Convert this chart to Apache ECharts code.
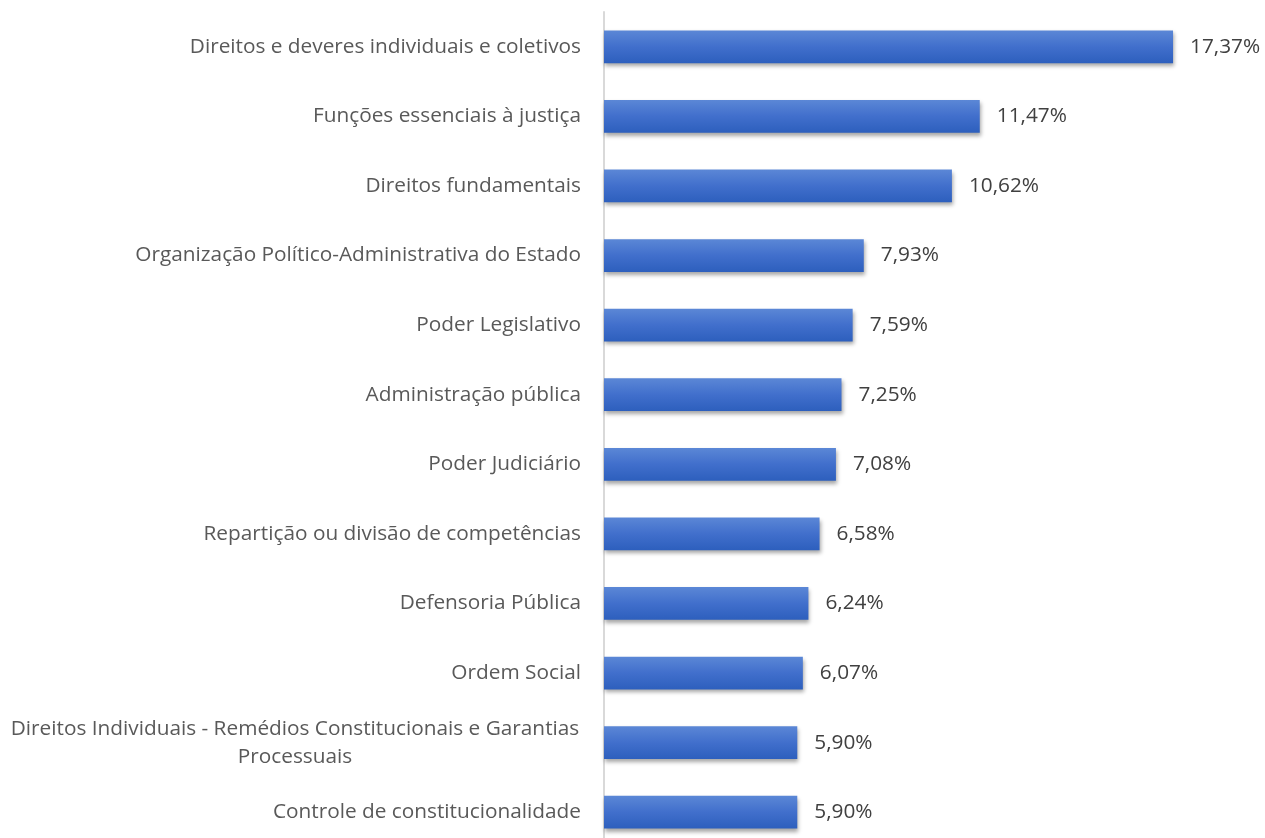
<!DOCTYPE html>
<html>
<head>
<meta charset="utf-8">
<script src="https://cdn.jsdelivr.net/npm/echarts@6/dist/echarts.min.js"></script>
<style>
html,body{margin:0;padding:0;background:#fff;}
#chart{width:1265px;height:838px;}
</style>
</head>
<body>
<div id="chart"></div>
<script>
const categories = [
  "Direitos e deveres individuais e coletivos",
  "Funções essenciais à justiça",
  "Direitos fundamentais",
  "Organização Político-Administrativa do Estado",
  "Poder Legislativo",
  "Administração pública",
  "Poder Judiciário",
  "Repartição ou divisão de competências",
  "Defensoria Pública",
  "Ordem Social",
  "Direitos Individuais - Remédios Constitucionais e Garantias\nProcessuais",
  "Controle de constitucionalidade"
];
const values = [17.37, 11.47, 10.62, 7.93, 7.59, 7.25, 7.08, 6.58, 6.24, 6.07, 5.90, 5.90];

const FONT = 'Open Sans';
const chart = echarts.init(document.getElementById('chart'));
const catData = categories.map(c => {
  if (c.indexOf('\n') >= 0) {
    return { value: c, textStyle: { align: 'center', padding: [0, 572, 0, 0], lineHeight: 28 } };
  }
  return c;
});
chart.setOption({
  animation: false,
  grid: { left: 604, top: 12, width: 655.2, height: 835, outerBoundsMode: 'none', containLabel: false },
  xAxis: {
    type: 'value', min: 0, max: 20,
    show: false
  },
  yAxis: {
    type: 'category',
    inverse: true,
    data: catData,
    axisLine: { show: true, lineStyle: { color: '#d9d9d9', width: 2 } },
    axisTick: { show: false },
    axisLabel: { color: '#595959', fontFamily: FONT, fontSize: 20.8, margin: 23, lineHeight: 28 }
  },
  series: [{
    type: 'bar',
    data: values,
    barCategoryGap: '53%',
    itemStyle: {
      color: new echarts.graphic.LinearGradient(0, 0, 0, 1, [
        { offset: 0, color: '#5b87d6' },
        { offset: 0.5, color: '#416fcc' },
        { offset: 1, color: '#2d5fbd' }
      ]),
      shadowColor: 'rgba(0,0,0,0.35)',
      shadowBlur: 4,
      shadowOffsetX: 1,
      shadowOffsetY: 3
    },
    label: {
      show: true, position: 'right', distance: 17,
      color: '#404040', fontFamily: FONT, fontSize: 20.8,
      formatter: p => p.value.toFixed(2).replace('.', ',') + '%'
    }
  }]
});
</script>
</body>
</html>
